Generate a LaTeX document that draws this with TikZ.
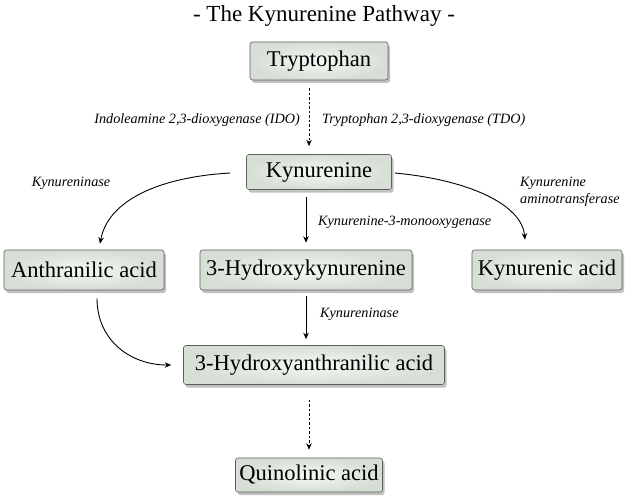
\documentclass[tikz,border=0pt]{standalone}
\usepackage{fontspec}
\setmainfont{Liberation Serif}
\usetikzlibrary{arrows.meta,shadows,calc}
\definecolor{boxedge}{RGB}{90,95,90}
\definecolor{boxin}{RGB}{244,249,244}
\definecolor{boxout}{RGB}{214,222,214}
\tikzset{
  compound/.style={draw=boxedge, line width=0.6pt, rounded corners=2.5pt,
    inner color=boxin, outer color=boxout,
    drop shadow={shadow xshift=2pt, shadow yshift=-3pt, opacity=0.35, fill=black!70},
    font=\fontsize{22.5}{26}\selectfont, inner xsep=2pt, inner ysep=0pt, align=center},
  enz/.style={font=\fontsize{14.2}{16.5}\selectfont\itshape, inner sep=1pt},
  rxn/.style={-{Stealth[length=6.5pt,width=5.5pt]}, line width=0.9pt, black},
  rxndash/.style={rxn, dashed, dash pattern=on 2.5pt off 2pt, line width=0.8pt},
}
\begin{document}
\begin{tikzpicture}[x=1pt,y=-1pt]
\useasboundingbox (0,0) rectangle (638,503);
\node[font=\fontsize{23}{26}\selectfont] (title) at (324,16) {- The Kynurenine Pathway -};

\node[compound, minimum width=138pt, minimum height=38pt] (trp) at (319,61) {Tryptophan};
\node[compound, minimum width=145pt, minimum height=35pt] (kyn) at (319,172) {Kynurenine};
\node[compound, minimum width=160pt, minimum height=40pt] (ant) at (84,270) {Anthranilic acid};
\node[compound, minimum width=212pt, minimum height=40pt] (hk) at (306,270) {3-Hydroxykynurenine};
\node[compound, minimum width=150pt, minimum height=40pt] (kna) at (547,270) {Kynurenic acid};
\node[compound, minimum width=261pt, minimum height=39pt] (haa) at (314,365) {3-Hydroxyanthranilic acid};
\node[compound, minimum width=147pt, minimum height=34pt] (quin) at (309,475) {Quinolinic acid};

% labels
\node[enz, anchor=east] (ido) at (301,120) {Indoleamine 2,3-dioxygenase (IDO)};
\node[enz, anchor=west] (tdo) at (321,120) {Tryptophan 2,3-dioxygenase (TDO)};
\node[enz] (kyase1) at (71,183) {Kynureninase};
\node[enz, anchor=west, align=left] (kat) at (519,192) {Kynurenine\\aminotransferase};
\node[enz, anchor=west] (kmo) at (317,222) {Kynurenine-3-monooxygenase};
\node[enz, anchor=west] (kyase2) at (319,314) {Kynureninase};

% connectors
\coordinate (a1) at ($(trp.south)+(-10,8)$);
\coordinate (a2) at ($(kyn.north)+(-10,-8)$);
\draw[rxndash] (a1) -- (a2);

\coordinate (b1) at ($(kyn.west)+(-16,1)$);
\coordinate (b2) at ($(ant.north)+(16,-6)$);
\draw[rxn] (b1) .. controls (160,177) and (108,200) .. (b2);

\coordinate (c1) at ($(kyn.east)+(3,1)$);
\coordinate (c2) at ($(kna.north)+(-22,-10)$);
\draw[rxn] (c1) .. controls (470,180) and (522,205) .. (c2);

\coordinate (d1) at ($(kyn.south)+(-13,7)$);
\coordinate (d2) at ($(hk.north)+(0,-7)$);
\draw[rxn] (d1) -- (d2);

\coordinate (e1) at ($(hk.south)+(0,6)$);
\coordinate (e2) at ($(haa.north)+(-8,-6)$);
\draw[rxn] (e1) -- (e2);

\coordinate (f1) at ($(ant.south)+(13,8)$);
\coordinate (f2) at ($(haa.west)+(-12,0)$);
\draw[rxn] (f1) .. controls (97,340) and (130,365) .. (f2);

\coordinate (g1) at ($(haa.south)+(-5,15)$);
\coordinate (g2) at ($(quin.north)+(0,-8)$);
\draw[rxndash] (g1) -- (g2);
\end{tikzpicture}
\end{document}
